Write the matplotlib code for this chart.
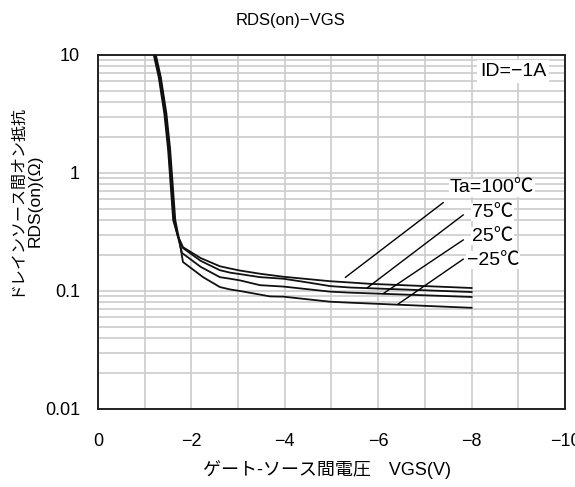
import numpy as np
import matplotlib
matplotlib.use("Agg")
import matplotlib.pyplot as plt
from matplotlib.ticker import LogLocator, NullFormatter, FixedLocator

plt.rcParams['font.family'] = ['Liberation Sans', 'Noto Sans CJK JP', 'DejaVu Sans']
plt.rcParams['axes.unicode_minus'] = True

# RDS(on) vs VGS at ID=-1A
vgs_100 = [-1.15, -1.30, -1.42, -1.50, -1.55, -1.61, -1.70, -1.76, -1.82, -2.2, -2.61, -2.83, -3.04, -3.47, -3.97, -4.97, -5.40, -5.82, -8.0]
rds_100 = [12.0, 6.5, 3.2, 1.6, 0.85, 0.40, 0.30, 0.265, 0.235, 0.19, 0.162, 0.155, 0.149, 0.140, 0.132, 0.121, 0.118, 0.115, 0.106]

vgs_75 = [-1.165, -1.315, -1.435, -1.515, -1.565, -1.625, -1.71, -1.78, -1.82, -2.2, -2.61, -2.83, -3.04, -3.47, -3.97, -4.5, -4.97, -5.40, -8.0]
rds_75 = [12.0, 6.5, 3.2, 1.6, 0.85, 0.40, 0.29, 0.25, 0.231, 0.18, 0.150, 0.143, 0.139, 0.131, 0.127, 0.118, 0.110, 0.107, 0.098]

vgs_25 = [-1.18, -1.33, -1.45, -1.53, -1.58, -1.64, -1.72, -1.80, -2.2, -2.61, -2.83, -3.04, -3.47, -3.97, -4.97, -5.40, -8.0]
rds_25 = [12.0, 6.5, 3.2, 1.6, 0.85, 0.40, 0.28, 0.210, 0.16, 0.131, 0.127, 0.123, 0.112, 0.109, 0.0987, 0.0968, 0.089]

vgs_m25 = [-1.195, -1.345, -1.465, -1.545, -1.595, -1.655, -1.74, -1.82, -2.25, -2.61, -2.83, -3.04, -3.68, -3.97, -4.97, -5.40, -8.0]
rds_m25 = [12.0, 6.5, 3.2, 1.6, 0.85, 0.40, 0.27, 0.176, 0.131, 0.108, 0.103, 0.100, 0.090, 0.0895, 0.0811, 0.0796, 0.072]

# temperature labels and their leader lines (start on curve, end at label)
temp_labels = ['Ta=100℃', '75℃', '25℃', '−25℃']
label_pos = [(-7.54, 0.746), (-8.01, 0.467), (-8.01, 0.292), (-7.90, 0.183)]
leader_start = [(-5.30, 0.1306), (-5.77, 0.1067), (-6.12, 0.0957), (-6.43, 0.0776)]
leader_end = [(-7.39, 0.560), (-7.82, 0.441), (-7.82, 0.2706), (-7.82, 0.186)]

x_ticks = [0, -2, -4, -6, -8, -10]
y_ticks = [0.01, 0.1, 1, 10]
y_ticklabels = ['0.01', '0.1', '1', '10']

fig = plt.figure(figsize=(5.75, 4.87), dpi=100)
ax = fig.add_axes([0.1704, 0.1602, 0.8122, 0.7269])

ax.set_yscale('log')
ax.set_ylim(0.01, 10)
ax.set_xlim(0, -10)

ax.set_yticks(y_ticks)
ax.set_yticklabels(y_ticklabels)
ax.yaxis.set_minor_locator(LogLocator(base=10, subs=np.arange(2, 10)))
ax.yaxis.set_minor_formatter(NullFormatter())
ax.set_xticks(x_ticks)
ax.set_xticklabels([('−%d' % -t) if t else '0' for t in x_ticks])
ax.xaxis.set_minor_locator(FixedLocator(np.arange(-1, -10, -1)))

ax.grid(True, which='both', axis='both', color='#cccccc', lw=1.2)
ax.set_axisbelow(True)
ax.tick_params(which='both', length=0, labelsize=13)
ax.tick_params(axis='x', pad=17)
ax.tick_params(axis='y', pad=13)
for s in ax.spines.values():
    s.set_linewidth(1.4)
    s.set_color('#222222')

for v, r in [(vgs_100, rds_100), (vgs_75, rds_75), (vgs_25, rds_25), (vgs_m25, rds_m25)]:
    ax.plot(v, r, color='#111111', lw=1.3, zorder=3)

for lbl, pos, p0, p1 in zip(temp_labels, label_pos, leader_start, leader_end):
    ax.plot([p0[0], p1[0]], [p0[1], p1[1]], color='black', lw=1.0, zorder=4)
    ax.text(pos[0], pos[1], lbl, fontsize=14, ha='left', va='center', zorder=5,
            bbox=dict(facecolor='white', edgecolor='none', pad=0.5))

ax.text(0.96, 0.953, 'ID=−1A', transform=ax.transAxes, fontsize=14,
        ha='right', va='center', zorder=5,
        bbox=dict(facecolor='white', edgecolor='none', pad=2))

fig.text(0.505, 0.958, 'RDS(on)−VGS', fontsize=12, ha='center', va='center')
fig.text(0.027, 0.59, 'ドレインソース間オン抵抗', fontsize=11.5, rotation=90,
         ha='center', va='center')
fig.text(0.061, 0.587, 'RDS(on)(Ω)', fontsize=12.5, rotation=90,
         ha='center', va='center')
fig.text(0.568, 0.035, 'ゲート-ソース間電圧　VGS(V)', fontsize=13,
         ha='center', va='center')

fig.savefig('out.png', dpi=100)
